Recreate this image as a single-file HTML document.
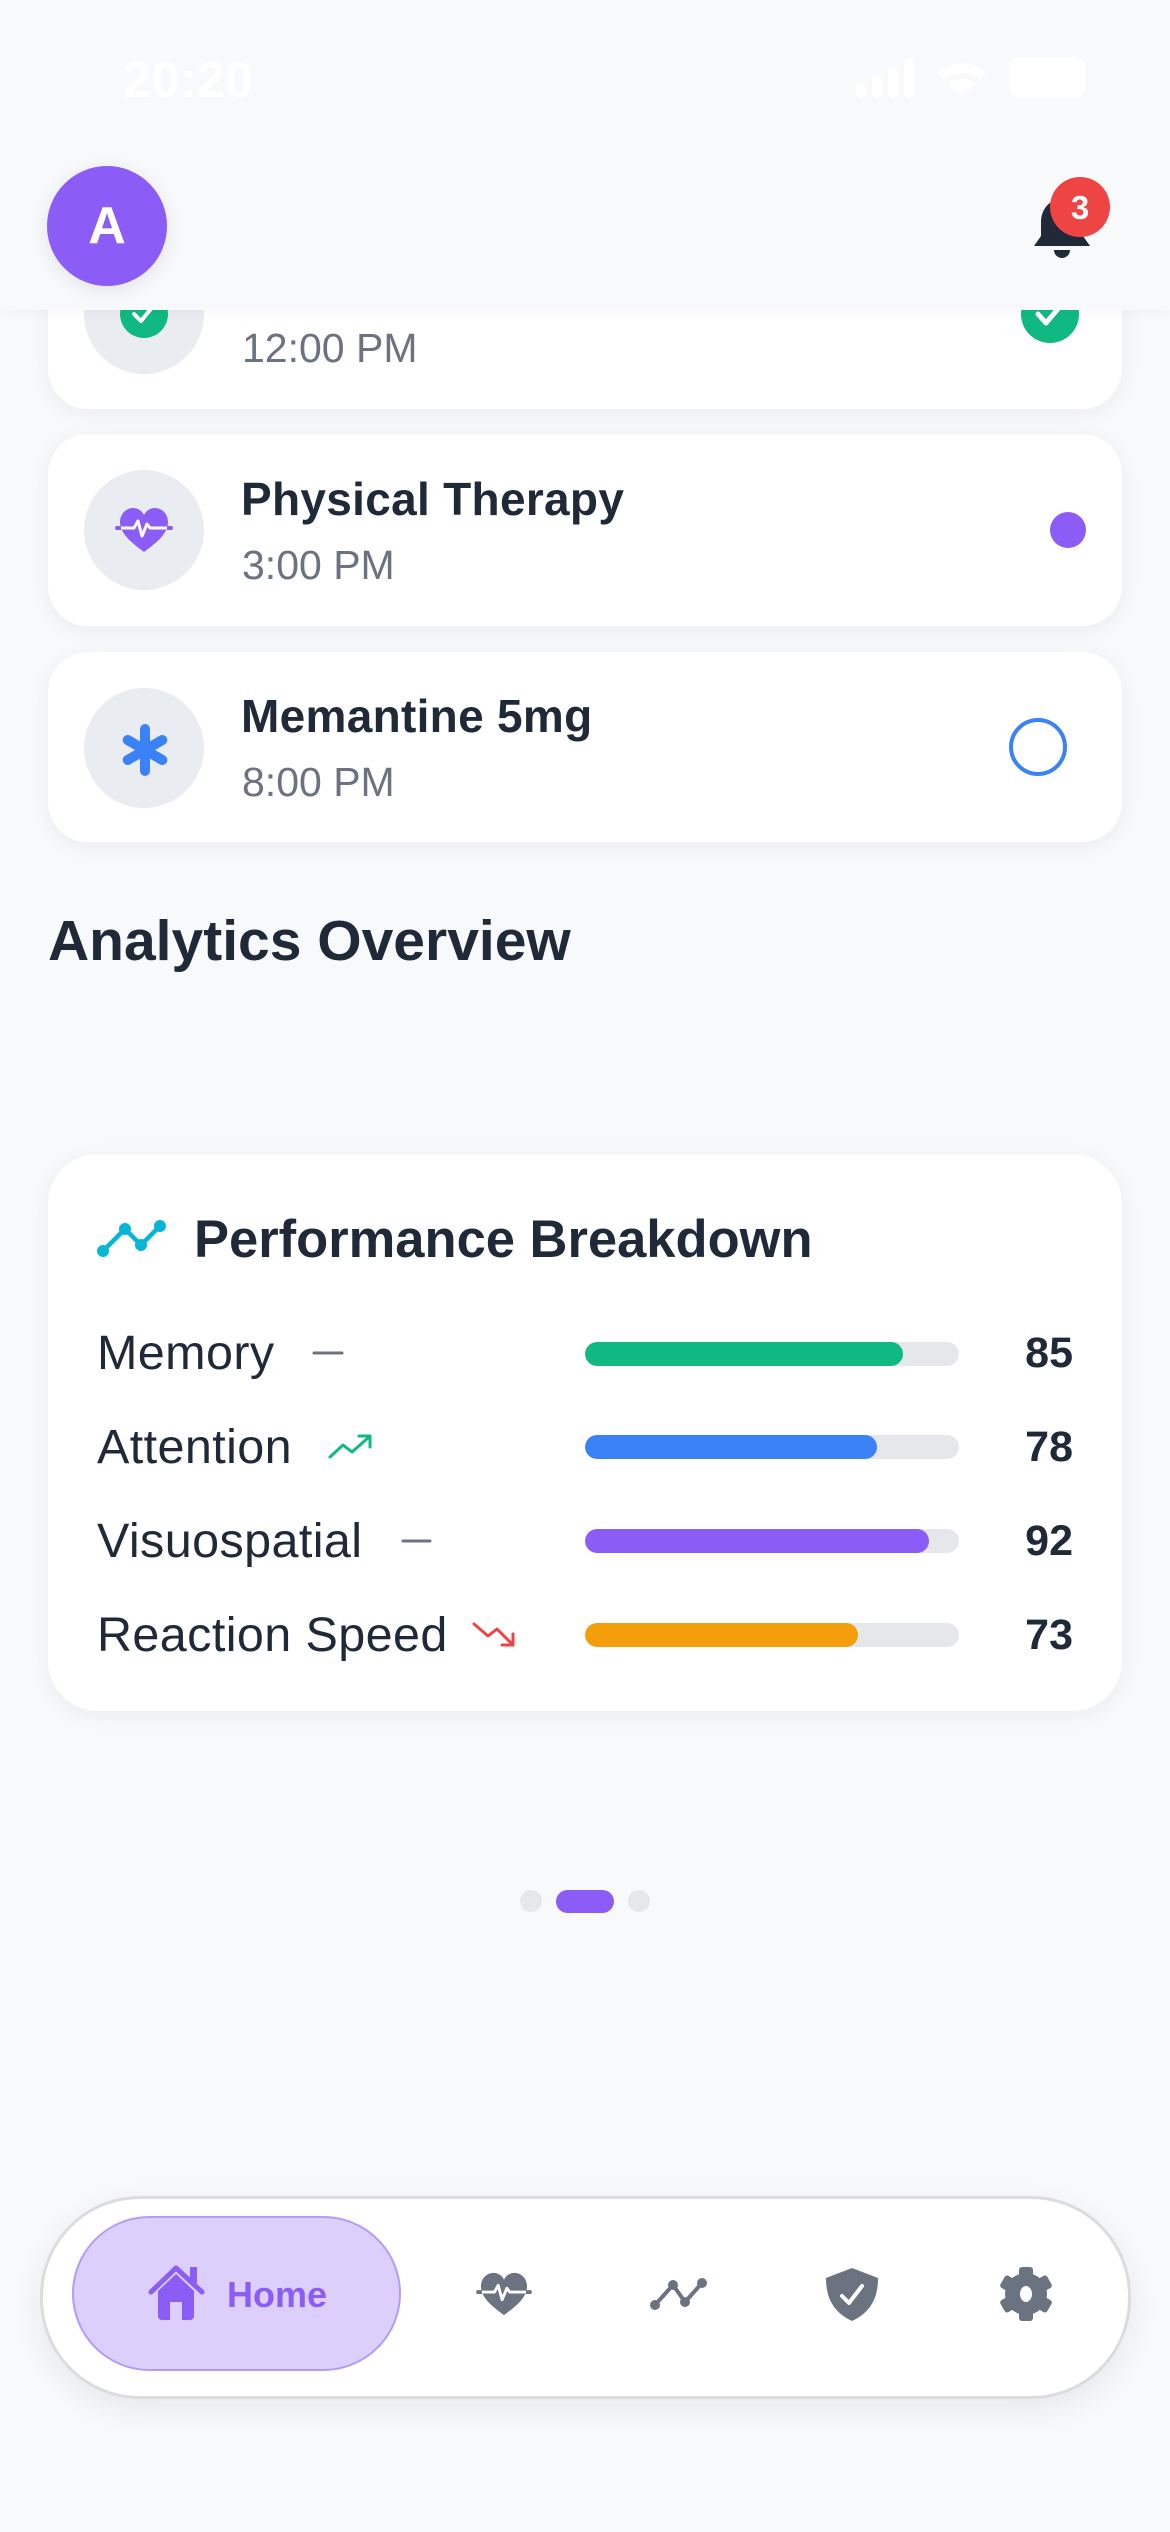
<!DOCTYPE html>
<html>
<head>
<meta charset="utf-8">
<style>
  html,body{margin:0;padding:0;}
  body{width:1170px;height:2532px;overflow:hidden;background:#f8f9fb;position:relative;font-family:"Liberation Sans",Arial,sans-serif;color:#1f2937;}
  .abs{position:absolute;}
  .t{position:absolute;line-height:1;white-space:nowrap;}
  .card{position:absolute;left:48px;width:1074px;background:#fff;border-radius:40px;box-shadow:0 4px 22px rgba(30,41,59,0.06);}
  .iconc{position:absolute;left:84px;width:120px;height:120px;border-radius:50%;background:#e9edf2;}
  .title{font-size:46px;font-weight:700;left:241px;color:#1f2937;letter-spacing:0.3px;}
  .time{font-size:41px;left:242px;color:#6b7280;}
  .lab{font-size:48.5px;left:97px;letter-spacing:0.4px;color:#1f2937;}
  .val{font-size:43px;font-weight:700;right:97px;color:#1f2937;}
  .track{position:absolute;left:585px;width:374px;height:24px;border-radius:12px;background:#e5e7eb;overflow:hidden;}
  .fill{height:100%;border-radius:12px;}
  svg{position:absolute;overflow:visible;}
</style>
</head>
<body>

<!-- Card 1 (scrolled under header) -->
<div class="card" style="top:217px;height:192px;"></div>
<div class="iconc" style="top:254px;"></div>
<svg style="left:116px;top:286px" width="56" height="56" viewBox="116 286 56 56">
  <circle cx="144" cy="314" r="24" fill="#10b981"/>
  <path d="M134 314 L141 321 L154 305" fill="none" stroke="#fff" stroke-width="4" stroke-linecap="round" stroke-linejoin="round"/>
</svg>
<div class="t title" style="top:259px;">Donepezil 10mg</div>
<div class="t time" style="top:328px;">12:00 PM</div>
<svg style="left:1018px;top:282px" width="64" height="64" viewBox="1018 282 64 64">
  <circle cx="1050" cy="314" r="29" fill="#10b981"/>
  <path d="M1038 314 L1046 323 L1062 304" fill="none" stroke="#fff" stroke-width="5" stroke-linecap="round" stroke-linejoin="round"/>
</svg>

<!-- Card 2 -->
<div class="card" style="top:434px;height:192px;"></div>
<div class="iconc" style="top:470px;"></div>
<svg style="left:115px;top:505px" width="58" height="50" viewBox="0 0 58 50">
  <path d="M29 47 C20 40 5 30 5 17 C5 9 11 3 18 3 C23 3 27 6 29 10 C31 6 35 3 40 3 C47 3 53 9 53 17 C53 30 38 40 29 47 Z" fill="#8b5cf6"/>
  <path d="M2 23 H56" stroke="#8b5cf6" stroke-width="4" stroke-linecap="round"/>
  <path d="M6 23 H19 L23 16 L27 31 L32 19 L35 23 H52" fill="none" stroke="#fff" stroke-width="3" stroke-linejoin="round"/>
</svg>
<div class="t title" style="top:476px;">Physical Therapy</div>
<div class="t time" style="top:545px;">3:00 PM</div>
<div class="abs" style="left:1050px;top:512px;width:36px;height:36px;border-radius:50%;background:#8b5cf6;"></div>

<!-- Card 3 -->
<div class="card" style="top:652px;height:190px;"></div>
<div class="iconc" style="top:688px;"></div>
<svg style="left:120px;top:723px" width="50" height="54" viewBox="0 0 50 54">
  <g stroke="#3b82f6" stroke-width="10" stroke-linecap="round">
    <line x1="25" y1="6" x2="25" y2="48"/>
    <line x1="7.7" y1="17" x2="42.3" y2="37"/>
    <line x1="7.7" y1="37" x2="42.3" y2="17"/>
  </g>
</svg>
<div class="t title" style="top:693px;">Memantine 5mg</div>
<div class="t time" style="top:762px;">8:00 PM</div>
<div class="abs" style="left:1009px;top:718px;width:50px;height:50px;border-radius:50%;border:4px solid #3b82f6;"></div>

<!-- Analytics Overview -->
<div class="t" style="left:48px;top:913px;font-size:57px;font-weight:700;color:#1f2937;">Analytics Overview</div>

<!-- Performance card -->
<div class="card" style="top:1154px;height:557px;border-radius:50px;"></div>
<svg style="left:90px;top:1215px" width="80" height="45" viewBox="90 1215 80 45">
  <polyline points="103,1251 125,1229 141,1245 160,1226" fill="none" stroke="#06b6d4" stroke-width="4.5" stroke-linejoin="round"/>
  <g fill="#06b6d4"><circle cx="103" cy="1251" r="6"/><circle cx="125" cy="1229" r="6"/><circle cx="141" cy="1245" r="6"/><circle cx="160" cy="1226" r="6"/></g>
</svg>
<div class="t" style="left:194px;top:1214px;font-size:52.5px;font-weight:700;color:#1f2937;">Performance Breakdown</div>

<div class="t lab" style="top:1329px;">Memory</div>
<div class="t lab" style="top:1423px;">Attention</div>
<div class="t lab" style="top:1517px;">Visuospatial</div>
<div class="t lab" style="top:1611px;">Reaction Speed</div>

<svg style="left:300px;top:1320px" width="240" height="340" viewBox="300 1320 240 340">
  <line x1="314" y1="1353" x2="342" y2="1353" stroke="#6b7280" stroke-width="3" stroke-linecap="round"/>
  <polyline points="330,1457 343,1445 352,1452 369,1437" fill="none" stroke="#10b981" stroke-width="3" stroke-linejoin="round" stroke-linecap="round"/>
  <polyline points="359,1436 370,1436 370,1447" fill="none" stroke="#10b981" stroke-width="3" stroke-linejoin="round" stroke-linecap="round"/>
  <line x1="403" y1="1541" x2="430" y2="1541" stroke="#6b7280" stroke-width="3" stroke-linecap="round"/>
  <polyline points="474,1624 488,1636 497,1629 513,1645" fill="none" stroke="#ef4444" stroke-width="3" stroke-linejoin="round" stroke-linecap="round"/>
  <polyline points="502,1645 513,1645 513,1634" fill="none" stroke="#ef4444" stroke-width="3" stroke-linejoin="round" stroke-linecap="round"/>
</svg>

<div class="track" style="top:1342px;"><div class="fill" style="width:85%;background:#10b981;"></div></div>
<div class="track" style="top:1435px;"><div class="fill" style="width:78%;background:#3b82f6;"></div></div>
<div class="track" style="top:1529px;"><div class="fill" style="width:92%;background:#8b5cf6;"></div></div>
<div class="track" style="top:1623px;"><div class="fill" style="width:73%;background:#f59e0b;"></div></div>

<div class="t val" style="top:1332px;">85</div>
<div class="t val" style="top:1426px;">78</div>
<div class="t val" style="top:1520px;">92</div>
<div class="t val" style="top:1614px;">73</div>

<!-- Pagination dots -->
<div class="abs" style="left:520px;top:1890px;width:22px;height:22px;border-radius:50%;background:#e5e7eb;"></div>
<div class="abs" style="left:556px;top:1890px;width:58px;height:23px;border-radius:12px;background:#8b5cf6;"></div>
<div class="abs" style="left:628px;top:1890px;width:22px;height:22px;border-radius:50%;background:#e5e7eb;"></div>

<!-- Header (covers scrolled content) -->
<div class="abs" style="left:0;top:0;width:1170px;height:310px;background:#f8f9fb;box-shadow:0 3px 10px rgba(30,41,59,0.03);z-index:5;"></div>
<div style="position:absolute;left:0;top:0;width:1170px;height:310px;z-index:6;">
  <div class="t" style="left:123px;top:54px;font-size:51px;font-weight:700;color:#ffffff;">20:20</div>
  <svg style="left:850px;top:52px" width="250" height="50" viewBox="850 52 250 50">
    <g fill="#ffffff">
      <rect x="856" y="82" width="10" height="16" rx="5"/>
      <rect x="872" y="74" width="10" height="24" rx="5"/>
      <rect x="888" y="66" width="10" height="32" rx="5"/>
      <rect x="904" y="57" width="10" height="41" rx="5"/>
      <path d="M938 72 A38 38 0 0 1 986 72 L980 80 A28 28 0 0 0 944 80 Z"/>
      <path d="M948 84 A22 22 0 0 1 976 84 L970 91 A13 13 0 0 0 954 91 Z"/>
      <path d="M962 95 L957 91 A8 8 0 0 1 967 91 Z"/>
      <rect x="1009" y="57" width="77" height="41" rx="12"/>
    </g>
  </svg>
  <div class="abs" style="left:47px;top:166px;width:120px;height:120px;border-radius:50%;background:#8b5cf6;box-shadow:0 4px 18px rgba(30,41,59,0.10);display:flex;align-items:center;justify-content:center;">
    <span style="font-size:52px;font-weight:700;color:#fff;line-height:1;">A</span>
  </div>
  <svg style="left:1030px;top:195px" width="66" height="68" viewBox="1030 195 66 68">
    <path d="M1062 199 C1049 199 1041 210 1041 222 V236 L1034 246 H1090 L1083 236 V222 C1083 210 1075 199 1062 199 Z" fill="#1f2937"/>
    <path d="M1054 250 H1070 A8 8 0 0 1 1054 250 Z" fill="#1f2937"/>
  </svg>
  <div class="abs" style="left:1050px;top:177px;width:60px;height:60px;border-radius:50%;background:#ef4444;display:flex;align-items:center;justify-content:center;">
    <span style="font-size:33px;font-weight:700;color:#fff;line-height:1;">3</span>
  </div>
</div>

<!-- Bottom nav -->
<div class="abs" style="left:40px;top:2196px;width:1085px;height:197px;border-radius:100px;background:#fff;border:3px solid #dcdcdf;box-shadow:0 10px 30px rgba(30,41,59,0.08);"></div>
<div class="abs" style="left:72px;top:2216px;width:325px;height:151px;border-radius:78px;background:#dccffb;border:2px solid #b39bf9;"></div>
<svg style="left:145px;top:2262px" width="64" height="62" viewBox="145 2262 64 62">
  <rect x="190" y="2267" width="7" height="16" fill="#8b5cf6"/>
  <polyline points="151,2292 176,2268 202,2292" fill="none" stroke="#8b5cf6" stroke-width="5" stroke-linecap="round" stroke-linejoin="round"/>
  <path d="M158 2291 L176 2274 L194 2291 V2316 A4 4 0 0 1 190 2320 H162 A4 4 0 0 1 158 2316 Z" fill="#8b5cf6"/>
  <rect x="170" y="2302" width="12" height="18" fill="#dccffb"/>
</svg>
<div class="t" style="left:227px;top:2277px;font-size:36px;font-weight:700;color:#8b5cf6;">Home</div>

<svg style="left:476px;top:2270px" width="56" height="48" viewBox="0 0 58 50">
  <path d="M29 47 C20 40 5 30 5 17 C5 9 11 3 18 3 C23 3 27 6 29 10 C31 6 35 3 40 3 C47 3 53 9 53 17 C53 30 38 40 29 47 Z" fill="#6b7280"/>
  <path d="M2 23 H56" stroke="#6b7280" stroke-width="4" stroke-linecap="round"/>
  <path d="M6 23 H19 L23 16 L27 31 L32 19 L35 23 H52" fill="none" stroke="#fff" stroke-width="3" stroke-linejoin="round"/>
</svg>
<svg style="left:645px;top:2275px" width="65" height="38" viewBox="645 2275 65 38">
  <polyline points="655,2305 673,2285 685,2302 702,2283" fill="none" stroke="#6b7280" stroke-width="4" stroke-linejoin="round"/>
  <g fill="#6b7280"><circle cx="655" cy="2305" r="5"/><circle cx="673" cy="2285" r="5"/><circle cx="685" cy="2302" r="5"/><circle cx="702" cy="2283" r="5"/></g>
</svg>
<svg style="left:822px;top:2265px" width="60" height="60" viewBox="822 2265 60 60">
  <path d="M852 2268 L878 2278 C878 2300 869 2313 852 2321 C835 2313 826 2300 826 2278 Z" fill="#6b7280"/>
  <path d="M842 2296 L849 2303 L862 2286" fill="none" stroke="#fff" stroke-width="4" stroke-linecap="round" stroke-linejoin="round"/>
</svg>
<svg style="left:996px;top:2264px" width="60" height="60" viewBox="996 2264 60 60">
  <g fill="#6b7280">
    <circle cx="1026" cy="2294" r="21"/>
    <rect x="1019" y="2267" width="14" height="54" rx="3"/>
    <rect x="1019" y="2267" width="14" height="54" rx="3" transform="rotate(60 1026 2294)"/>
    <rect x="1019" y="2267" width="14" height="54" rx="3" transform="rotate(120 1026 2294)"/>
  </g>
  <ellipse cx="1026" cy="2294" rx="6" ry="8" fill="#fff"/>
</svg>

</body>
</html>
